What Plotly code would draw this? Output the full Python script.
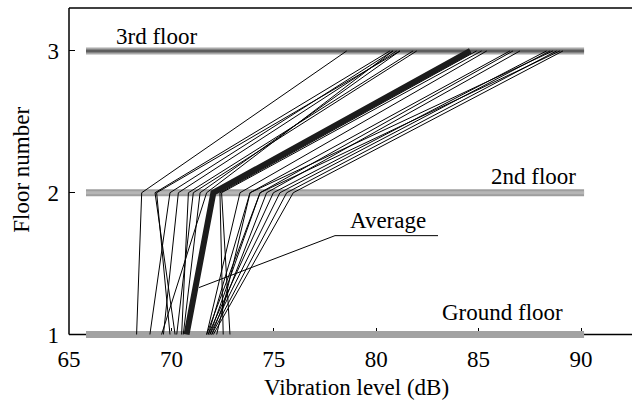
import plotly.graph_objects as go

# ---- data ----
ground_level = [68.30, 68.95, 70.18, 69.61, 69.93, 70.50, 70.26, 70.58, 69.52, 72.53, 72.86,
                71.72, 71.80, 71.88, 71.97, 71.80, 71.88, 71.97, 72.05, 71.72, 72.21]
second_level = [68.55, 69.93, 69.20, 70.34, 69.28, 70.83, 71.07, 71.40, 71.72, 72.37, 72.45,
                73.35, 73.84, 74.33, 74.65, 74.98, 75.30, 75.63, 75.95, 74.33, 73.84]
third_level = [78.56, 80.82, 80.67, 81.00, 81.16, 81.80, 81.98, 81.16, 80.82, 84.90, 85.15,
               85.40, 86.53, 86.68, 87.02, 88.32, 88.49, 88.81, 89.12, 88.97, 88.63]
average_level = [70.74, 72.05, 84.6]
floors = [1, 2, 3]
floor_names = ["Ground floor", "2nd floor", "3rd floor"]
bar_span = [65.83, 90.15]
x_ticks = [65, 70, 75, 80, 85, 90]
y_ticks = [1, 2, 3]

# ---- geometry ----
W, H = 632, 402
L, T, R, B = 69, 8, 632, 338.5
X_RANGE = [65, 65 + (R - L) / 20.48]
Y_RANGE = [1 - (B - 335) / 142, 3 + (51 - T) / 142]
FONT = "Liberation Serif, Times New Roman, Times, serif"
FS = 23


def px(x):
    return (x - L) / (R - L)


def py(y):
    return (B - y) / (B - T)


fig = go.Figure()

# floor bars
bar_styles = {
    1: [("#a2a2a2", 7)],
    2: [("#9e9e9e", 7), ("#b6b6b6", 3)],
    3: [("#a9a9a9", 7), ("#5e5e5e", 3)],
}
for f in floors:
    for col, w in bar_styles[f]:
        fig.add_trace(go.Scatter(x=bar_span, y=[f, f], mode="lines",
                                 line=dict(color=col, width=w), hoverinfo="skip",
                                 showlegend=False))

# individual measurement lines
for g, s, t in zip(ground_level, second_level, third_level):
    fig.add_trace(go.Scatter(x=[g, s, t], y=floors, mode="lines",
                             line=dict(color="black", width=1), showlegend=False))

# average
fig.add_trace(go.Scatter(x=average_level, y=floors, mode="lines",
                         line=dict(color="#1c1c1c", width=6), showlegend=False))

# frame lines
fig.add_shape(type="line", xref="paper", yref="y", x0=0, x1=1, y0=1, y1=1,
              line=dict(color="black", width=1.5), layer="below")
fig.add_shape(type="line", xref="paper", yref="y", x0=0, x1=0, y0=1, y1=Y_RANGE[1],
              line=dict(color="black", width=1.5), layer="below")
fig.add_shape(type="line", xref="paper", yref="paper", x0=0, x1=1, y0=1, y1=1,
              line=dict(color="black", width=1.5), layer="above")

ann = []
ann.append(dict(text="3rd floor", x=px(114), y=py(37), xanchor="left", yanchor="middle"))
ann.append(dict(text="2nd floor", x=px(578), y=py(177), xanchor="right", yanchor="middle"))
ann.append(dict(text="Ground floor", x=px(565), y=py(313), xanchor="right", yanchor="middle"))
ann.append(dict(text="Average", x=px(388), y=py(221), xanchor="center", yanchor="middle"))
ann.append(dict(text="Vibration level (dB)", x=px(356), y=py(388), xanchor="center",
                yanchor="middle"))
ann.append(dict(text="Floor number", x=px(22), y=py(170), xanchor="center",
                yanchor="middle", textangle=-90))
for a in ann:
    a.update(xref="paper", yref="paper", showarrow=False,
             font=dict(family=FONT, size=FS, color="black"))
    fig.add_annotation(**a)

# leader line for "Average"
fig.add_shape(type="path", xref="paper", yref="paper",
              path="M {},{} L {},{} L {},{}".format(px(199), py(288), px(335), py(236),
                                                    px(438), py(236)),
              line=dict(color="black", width=1))

fig.update_layout(
    width=W, height=H,
    margin=dict(l=L, r=W - R, t=T, b=H - B, pad=0),
    plot_bgcolor="white", paper_bgcolor="white",
    font=dict(family=FONT, size=FS, color="black"),
    showlegend=False,
    xaxis=dict(range=X_RANGE, tickvals=x_ticks, ticks="inside", ticklen=10,
               tickcolor="black", tickwidth=1, showgrid=False, zeroline=False,
               showline=False, layer="below traces", ticklabelstandoff=5,
               tickfont=dict(family=FONT, size=FS)),
    yaxis=dict(range=Y_RANGE, tickvals=y_ticks, ticks="inside", ticklen=6,
               tickcolor="black", tickwidth=1, showgrid=False, zeroline=False,
               showline=False, layer="below traces", ticklabelstandoff=9,
               tickfont=dict(family=FONT, size=FS)),
)

fig.write_html("out.html")
